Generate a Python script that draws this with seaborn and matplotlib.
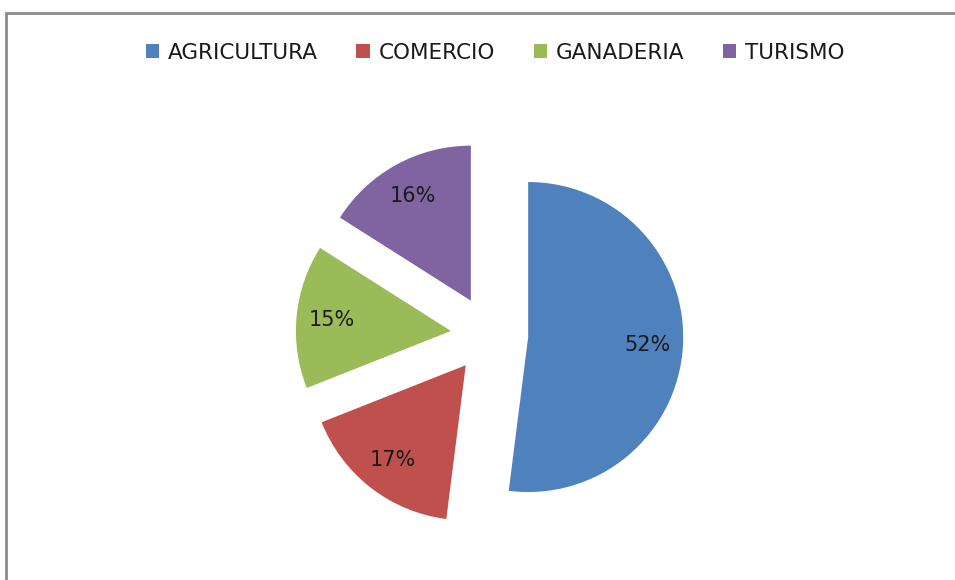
import matplotlib
matplotlib.use("Agg")
import matplotlib.pyplot as plt
import seaborn as sns
from matplotlib.patches import Rectangle

categories = ["AGRICULTURA", "COMERCIO", "GANADERIA", "TURISMO"]
values = [52, 17, 15, 16]
colors = ["#4F81BD", "#C0504D", "#9BBB59", "#8064A2"]

sns.set_theme(style="white")
plt.rcParams['font.family'] = ['DejaVu Sans']

W, H = 955, 580
fig = plt.figure(figsize=(W / 100, H / 100), dpi=100)
ax = fig.add_axes([0, 0, 1, 1])

palette = sns.color_palette(colors)
wedges, texts, autotexts = ax.pie(
    values,
    colors=palette,
    startangle=90,
    counterclock=False,
    explode=[0.25] * len(values),
    autopct=lambda p: f"{p:.0f}%",
    pctdistance=0.77,
    radius=1.0,
    textprops=dict(fontsize=15, color="#1a1a1a"),
    wedgeprops=dict(linewidth=0),
)

# map pie units to pixels: center (489.5, 334.6) px, radius 155 px
s = 155.0
cx, cy = 489.5, 334.6
ax.set_xlim(-cx / s, (W - cx) / s)
ax.set_ylim(-(H - cy) / s, cy / s)
ax.set_aspect('auto')
ax.axis('off')

# chart frame
fig.patches.append(Rectangle((5.5 / W, -0.1), 1.2, (1 - 12.5 / H) + 0.1,
                             transform=fig.transFigure, fill=False,
                             edgecolor="#8c8c8c", linewidth=2))

fig.legend(wedges, categories, loc='center', bbox_to_anchor=(495 / W, 1 - 53 / H),
           ncol=4, frameon=False, fontsize=15.5, handlelength=0.62, handleheight=0.62,
           handletextpad=0.4, columnspacing=1.8, labelcolor="#1a1a1a")

fig.savefig("out.png", dpi=100)
